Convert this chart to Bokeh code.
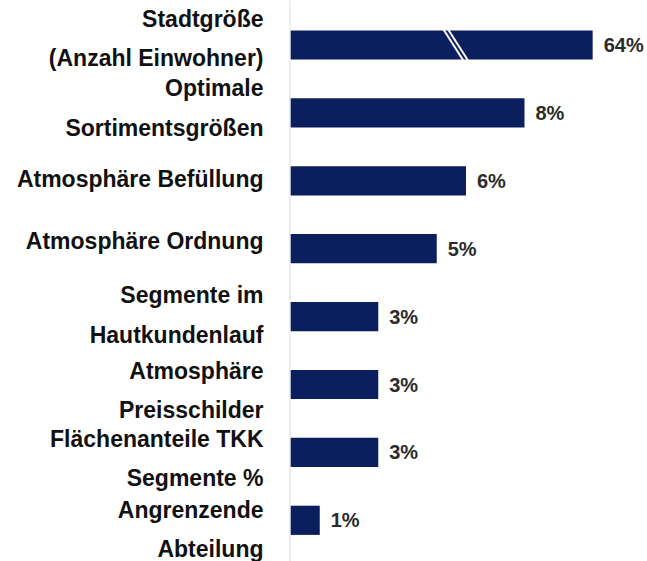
import numpy as np
from bokeh.plotting import figure
from bokeh.models import Range1d, ColumnDataSource, Span
from bokeh.core.properties import value
from bokeh.embed import file_html
from bokeh.resources import INLINE

# ---- data ----
categories = [
    "Stadtgröße\n(Anzahl Einwohner)",
    "Optimale\nSortimentsgrößen",
    "Atmosphäre Befüllung",
    "Atmosphäre Ordnung",
    "Segmente im\nHautkundenlauf",
    "Atmosphäre\nPreisschilder",
    "Flächenanteile TKK\nSegmente %",
    "Angrenzende\nAbteilung",
]
values = [64, 8, 6, 5, 3, 3, 3, 1]
value_labels = ["64%", "8%", "6%", "5%", "3%", "3%", "3%", "1%"]

# ---- layout / style ----
W, H = 647, 561
PX_PER_PCT = 29.25
BAR_START_PX = 290
BREAK_CAP = 10.33          # axis break: long bar is drawn truncated
ROW_PX = 67.9
FIRST_ROW_PX = 44.5
NAVY = "#0b1f5e"
FONT = "Liberation Sans"
LABEL_DY = [-6.5, -5, -2, -8, -1.5, 6, 6, 9]   # vertical nudge of category labels (px)

idx = np.arange(len(values))
disp = np.minimum(np.array(values, dtype=float), BREAK_CAP)

src = ColumnDataSource(dict(y=idx, right=disp, lab=value_labels))

x0 = -BAR_START_PX / PX_PER_PCT
x1 = (W - BAR_START_PX) / PX_PER_PCT
ytop = -FIRST_ROW_PX / ROW_PX
ybot = (H - FIRST_ROW_PX) / ROW_PX

p = figure(width=W, height=H, output_backend="svg", toolbar_location=None,
           x_range=Range1d(x0, x1), y_range=Range1d(ybot, ytop),
           min_border=0, outline_line_color=None)
p.axis.visible = False
p.grid.visible = False

p.add_layout(Span(location=-0.5 / PX_PER_PCT, dimension="height",
                  line_color="#dcdcdc", line_width=1))

p.hbar(y="y", left=0, right="right", height=0.43, source=src,
       fill_color=NAVY, line_color=None)

# break marks on truncated bars
broken = [i for i, v in enumerate(values) if v > BREAK_CAP]
for i in broken:
    for dx in (0.0, 0.16):
        p.segment(x0=[5.22 + dx], y0=[i - 0.235], x1=[5.92 + dx], y1=[i + 0.235],
                  line_color="white", line_width=2)

# value labels
p.text(x="right", y="y", text="lab", source=src, x_offset=11,
       text_font=value(FONT), text_font_style="bold", text_font_size="20px",
       text_color="#2b2b2b", text_align="left", text_baseline="middle")

# category labels
lab_src = ColumnDataSource(dict(x=np.zeros(len(values)),
                                y=idx + np.array(LABEL_DY) / ROW_PX,
                                cat=categories))
p.text(x="x", y="y", text="cat", source=lab_src, x_offset=-27,
       text_font=value(FONT), text_font_style="bold", text_font_size="23px",
       text_color="#111111", text_align="right", text_baseline="middle",
       text_line_height=1.52)

open("out.html", "w").write(file_html(p, INLINE))
